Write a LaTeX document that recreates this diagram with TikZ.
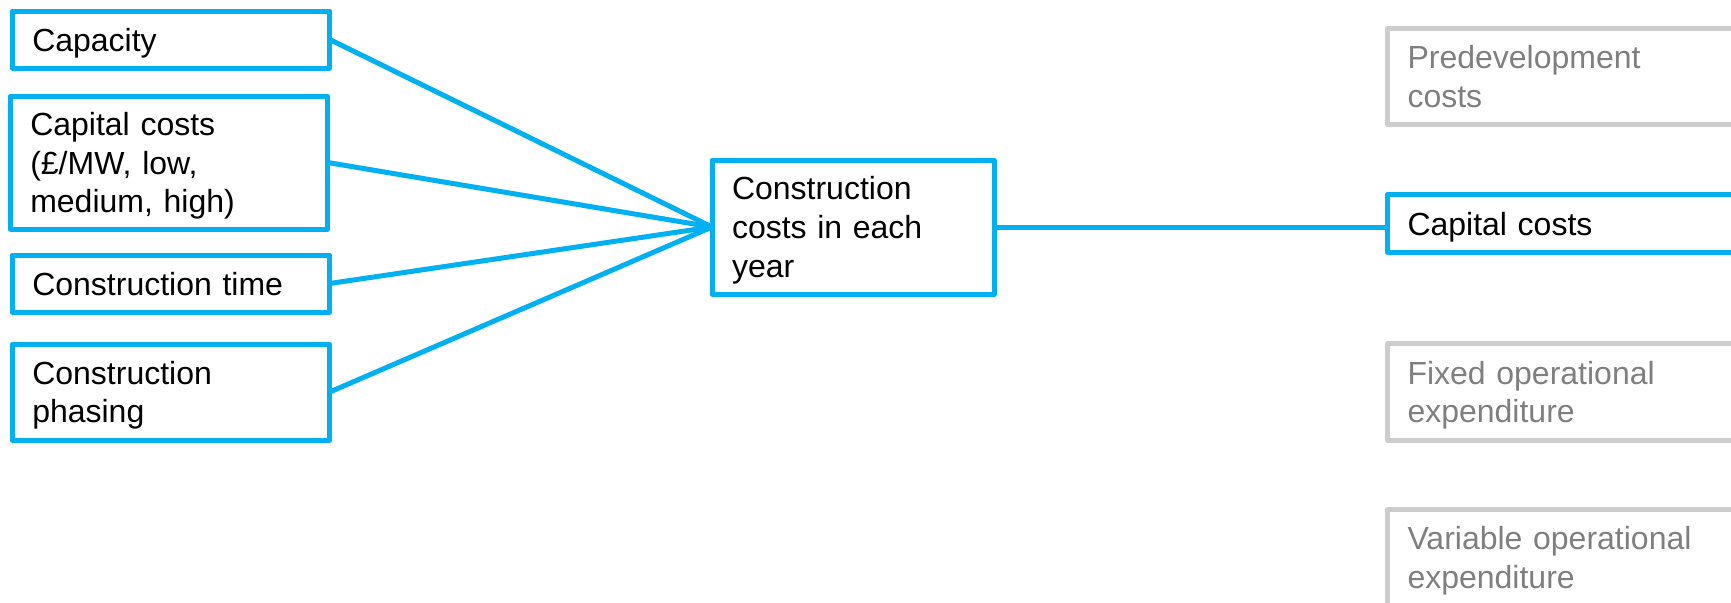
\documentclass[tikz,border=0pt]{standalone}
\usepackage{fontspec}
\setmainfont{Liberation Sans}
\definecolor{linkblue}{HTML}{00B0F0}
\definecolor{mutedgray}{HTML}{CDCDCD}
\definecolor{mutedtext}{HTML}{7F7F7F}
% end the paragraph and drop the depth of its last line
\newcommand\cutlastdepth{\endgraf\kern-\prevdepth}
\begin{document}
\begin{tikzpicture}[x=0.75pt, y=-0.75pt,
  every node/.style={font=\fontsize{24}{29}\selectfont, align=left,
    inner xsep=15pt, inner ysep=2pt, outer sep=0pt,
    line width=3.75pt, line join=round,
    execute at end node=\cutlastdepth},
  inputbox/.style={draw=linkblue, text=black, text width=208.1pt},
  midbox/.style={draw=linkblue, text=black, text width=181.5pt},
  costbox/.style={draw=linkblue, text=black, text width=249.4pt},
  dimbox/.style={draw=mutedgray, text=mutedtext, text width=249.4pt},
  link/.style={draw=linkblue, line width=3.75pt}]
\useasboundingbox (0,0) rectangle (1731,603);
\clip (0,0) rectangle (1731,603);

% inputs
\node[inputbox, minimum height=42.75pt] (capacity) at (171,39.5) {Capacity};
\node[inputbox, minimum height=99.75pt] (capex) at (169,162.5)
  {Capital costs\\(£/MW, low,\\medium, high)};
\node[inputbox, minimum height=42.75pt] (ctime) at (171,283.5) {Construction time};
\node[inputbox, minimum height=72pt] (phasing) at (171,392)
  {Construction\\phasing};

% yearly construction costs
\node[midbox, minimum height=100.5pt] (yearly) at (853,227)
  {Construction\\costs in each\\year};

% cost categories
\node[dimbox, minimum height=72pt] (predev) at (1573.75,76.5)
  {Predevelopment\\costs};
\node[costbox, minimum height=43.5pt] (capital) at (1573.75,223.5) {Capital costs};
\node[dimbox, minimum height=72.75pt] (fixed) at (1573.75,392)
  {Fixed operational\\expenditure};
\node[dimbox, minimum height=72pt] (variable) at (1573.75,557.5)
  {Variable operational\\expenditure};

% connectors
\draw[link] (capacity.east) -- (yearly.west);
\draw[link] (capex.east) -- (yearly.west);
\draw[link] (ctime.east) -- (yearly.west);
\draw[link] (phasing.east) -- (yearly.west);
\draw[link] (yearly.east) -- (yearly.east -| capital.west);
\end{tikzpicture}
\end{document}
